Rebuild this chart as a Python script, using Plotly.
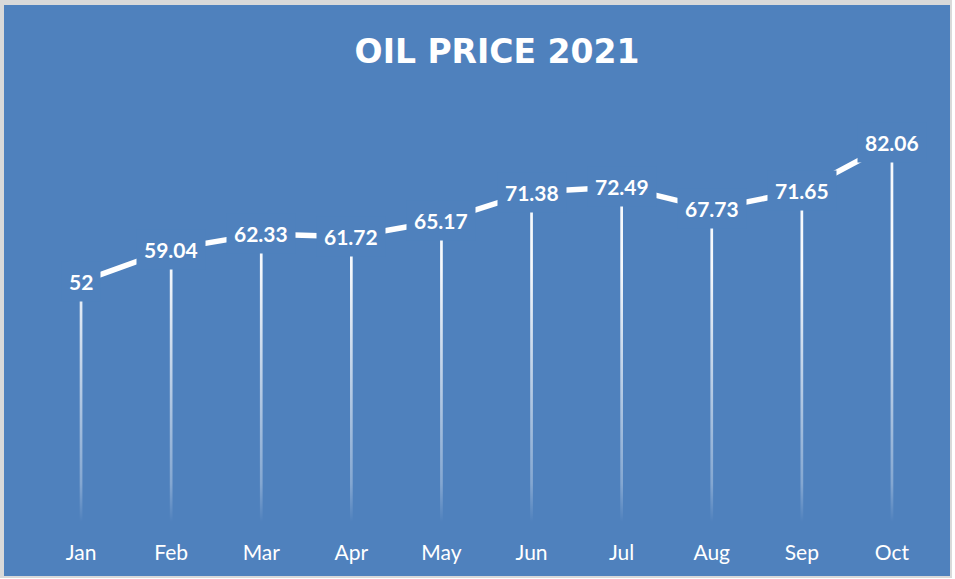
import plotly.graph_objects as go

months = ["Jan", "Feb", "Mar", "Apr", "May", "Jun", "Jul", "Aug", "Sep", "Oct"]
prices = [52, 59.04, 62.33, 61.72, 65.17, 71.38, 72.49, 67.73, 71.65, 82.06]
title_text = "OIL PRICE 2021"

BLUE = "#4F81BD"
W, H = 955, 579
L, R, T, B = 36, 18, 106, 57
pw, ph = W - L - R, H - T - B

def px_x(p):
    return (p - L) / pw

def px_y(p):
    return (H - B - p) / ph

xs = list(range(len(months)))

# drop lines as thin polygons with vertical gradient
hw = 0.015
dx, dy = [], []
for i, v in zip(xs, prices):
    dx += [i - hw, i + hw, i + hw, i - hw, i - hw, None]
    dy += [0, 0, v, v, 0, None]

fig = go.Figure()
fig.add_trace(go.Scatter(
    x=dx, y=dy, mode="lines", fill="toself", line=dict(width=0),
    fillgradient=dict(type="vertical", start=0, stop=55,
                      colorscale=[[0, "rgba(255,255,255,0)"],
                                  [0.15, "rgba(255,255,255,0.3)"],
                                  [1, "rgba(255,255,255,0.95)"]]),
    hoverinfo="skip", showlegend=False))

fig.add_trace(go.Scatter(
    x=xs, y=prices, mode="lines", line=dict(color="white", width=5.5),
    hoverinfo="skip", showlegend=False))

for i, v in zip(xs, prices):
    fig.add_annotation(x=i, y=v, text=f"<b>{v:g}</b>", showarrow=False,
                       bgcolor=BLUE, borderpad=7,
                       font=dict(family="Lato", size=21, color="white"))

shapes = [
    dict(type="rect", xref="paper", yref="paper", layer="below",
         x0=px_x(0), x1=px_x(952), y0=px_y(578), y1=px_y(0),
         fillcolor="#d9d9d9", line=dict(width=0)),
    dict(type="rect", xref="paper", yref="paper", layer="below",
         x0=px_x(4), x1=px_x(950), y0=px_y(576), y1=px_y(5),
         fillcolor=BLUE, line=dict(width=0)),
]

fig.update_layout(
    width=W, height=H,
    margin=dict(l=L, r=R, t=T, b=B),
    paper_bgcolor="white", plot_bgcolor="rgba(0,0,0,0)",
    shapes=shapes,
    title=dict(text=f"<b>{title_text}</b>", xref="container", yref="container",
               x=497 / W, y=1 - 51 / H, xanchor="center", yanchor="middle",
               font=dict(family="DejaVu Sans", size=33, color="white")),
    xaxis=dict(range=[-0.5, len(months) - 0.5], tickmode="array", tickvals=xs,
               ticktext=months, showgrid=False, zeroline=False, showline=False,
               ticks="", tickfont=dict(family="Lato", size=21, color="white"),
               ticklabelstandoff=16, fixedrange=True),
    yaxis=dict(range=[0, 90], visible=False, showgrid=False, zeroline=False,
               fixedrange=True),
    showlegend=False,
)

fig.write_html("out.html", config={"displayModeBar": False},
               post_script="document.body.style.margin='0';document.body.style.overflow='hidden';")
